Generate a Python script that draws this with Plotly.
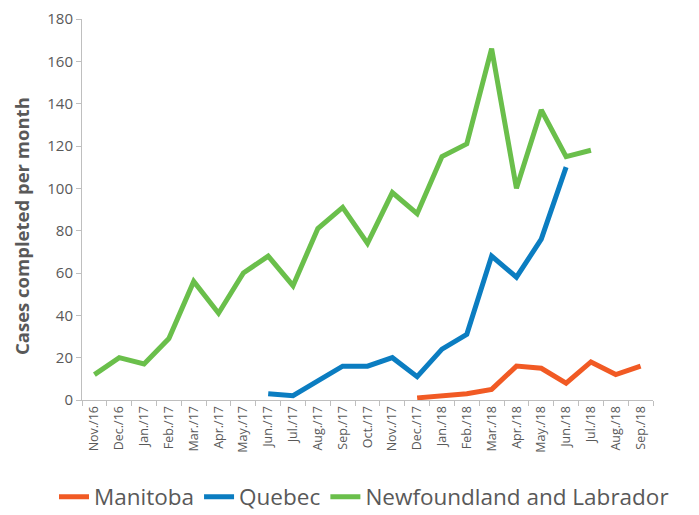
import plotly.graph_objects as go

months = ["Nov./16", "Dec./16", "Jan./17", "Feb./17", "Mar./17", "Apr./17", "May./17",
          "Jun./17", "Jul./17", "Aug./17", "Sep./17", "Oct./17", "Nov./17", "Dec./17",
          "Jan./18", "Feb./18", "Mar./18", "Apr./18", "May./18", "Jun./18", "Jul./18",
          "Aug./18", "Sep./18"]

manitoba = [None]*13 + [1, 2, 3, 5, 16, 15, 8, 18, 12, 16]
quebec = [None]*7 + [3, 2, 9, 16, 16, 20, 11, 24, 31, 68, 58, 76, 110, None, None, None]
nfl = [12, 20, 17, 29, 56, 41, 60, 68, 54, 81, 91, 74, 98, 88, 115, 121, 166, 100, 137, 115, 118, None, None]

series = [("Manitoba", manitoba, "#f15a24"),
          ("Quebec", quebec, "#0b7dc1"),
          ("Newfoundland and Labrador", nfl, "#6abf4b")]

fig = go.Figure()
for name, vals, col in series:
    fig.add_trace(go.Scatter(x=months, y=vals, name=name, mode="lines",
                             line=dict(color=col, width=5), connectgaps=False))

# page body has an 8px margin; figure is sized so that the plot lands where the reference has it
W, H = 691, 507
L, R, T, B = 74, 46, 11, 115
pw, ph = W - L - R, H - T - B

fig.update_layout(
    width=W, height=H,
    margin=dict(l=L, r=R, t=T, b=B, autoexpand=False),
    plot_bgcolor="white", paper_bgcolor="white",
    font=dict(family="Open Sans", color="#595959"),
    showlegend=True,
    legend=dict(orientation="h", x=(46 - L) / pw, xanchor="left",
                y=-(489 - (H - B)) / ph, yanchor="middle",
                font=dict(size=22.5, color="#595959"), tracegroupgap=0,
                itemsizing="constant"),
    xaxis=dict(type="category", tickangle=-90, tickfont=dict(size=12.5, color="#595959"),
               showline=True, linecolor="#bfbfbf", linewidth=1, ticks="outside",
               tickcolor="#bfbfbf", ticklen=5, tickson="boundaries", showgrid=False,
               range=[-0.5, 22.5], automargin=False),
    yaxis=dict(range=[0, 180], dtick=20, tickfont=dict(size=15, color="#595959"),
               showline=True, linecolor="#bfbfbf", linewidth=1, ticks="outside",
               tickcolor="#bfbfbf", ticklen=5, showgrid=False, zeroline=False,
               automargin=False),
    annotations=[dict(text="<b>Cases completed per month</b>", textangle=-90,
                      xref="paper", yref="paper", x=(14 - L) / pw, y=((H - B) - 218) / ph,
                      xanchor="center", yanchor="middle", showarrow=False,
                      font=dict(size=18.5, color="#595959"))],
)

fig.write_html("out.html")
